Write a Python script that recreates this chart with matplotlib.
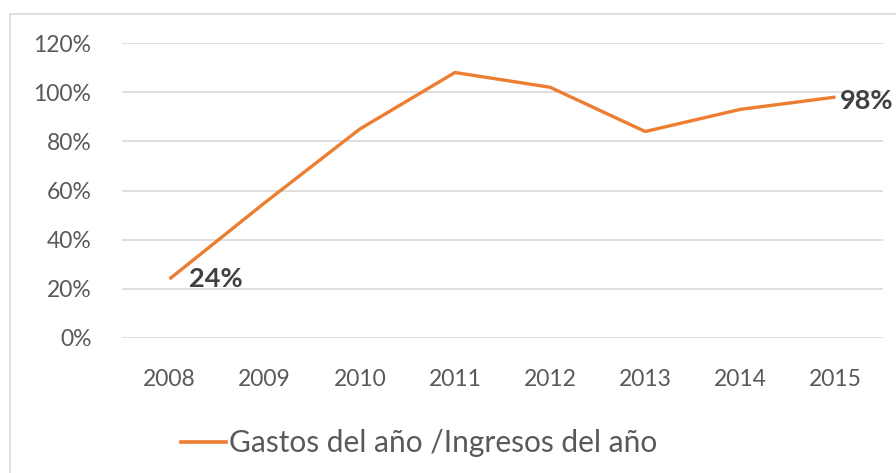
import matplotlib
matplotlib.use("Agg")
import matplotlib.pyplot as plt
from matplotlib.patches import Rectangle
from matplotlib.lines import Line2D

years = ["2008", "2009", "2010", "2011", "2012", "2013", "2014", "2015"]
ratio = [24, 55, 85, 108, 102, 84, 93, 98]
yticks = [0, 20, 40, 60, 80, 100, 120]
series_name = "Gastos del año /Ingresos del año"

W, H = 896, 473
fig = plt.figure(figsize=(W / 100, H / 100), dpi=100)
fig.patch.set_facecolor("white")
plt.rcParams["font.family"] = ["Lato", "DejaVu Sans"]

# outer frame
fig.patches.append(Rectangle((10 / W, -0.05), 0.99, (H - 14) / H + 0.05, transform=fig.transFigure,
                             fill=False, edgecolor="#d9d9d9", linewidth=1.2))

ax = fig.add_axes([122 / W, 1 - 338 / H, (883 - 122) / W, (338 - 43) / H])
x = list(range(len(years)))
ax.plot(x, ratio, color="#ED7D31", linewidth=2.4, solid_capstyle="butt")
ax.set_xlim(-0.5, len(years) - 0.5)
ax.set_ylim(0, 120)
ax.set_yticks(yticks)
ax.set_yticklabels([f"{v}%" for v in yticks])
ax.set_xticks(x)
ax.set_xticklabels(years)
ax.grid(axis="y", color="#d9d9d9", linewidth=1.2)
ax.set_axisbelow(True)
for s in ax.spines.values():
    s.set_visible(False)
ax.tick_params(length=0, labelsize=16.5, labelcolor="#595959")
ax.tick_params(axis="y", pad=22)
ax.tick_params(axis="x", pad=22)

ax.annotate(f"{ratio[0]}%", (x[0], ratio[0]), xytext=(14, 0), textcoords="offset points",
            ha="left", va="center", fontsize=19.5, fontweight="bold", color="#404040")
ax.annotate(f"{ratio[-1]}%", (x[-1], ratio[-1]), xytext=(3, -3), textcoords="offset points",
            ha="left", va="center", fontsize=19.5, fontweight="bold", color="#404040",
            annotation_clip=False)

handle = Line2D([], [], color="#ED7D31", linewidth=2.6)
leg = fig.legend([handle], [series_name], loc="center", bbox_to_anchor=(0.468, 1 - 443 / H),
                 frameon=False, fontsize=21.5, handlelength=1.5, handletextpad=0.1)
for t in leg.get_texts():
    t.set_color("#595959")

fig.savefig("out.png", dpi=100, facecolor="white")
